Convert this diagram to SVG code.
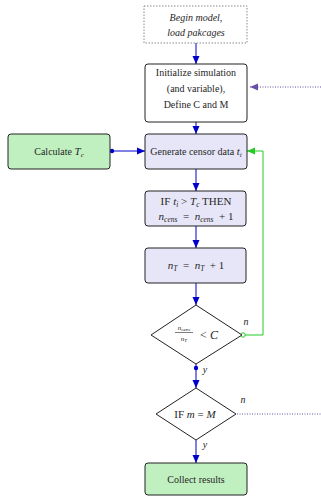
<svg xmlns="http://www.w3.org/2000/svg" width="321" height="497" viewBox="0 0 321 497">
  <style>
    text { font-family: "Liberation Serif", "Times New Roman", serif; font-size: 10px; fill: #262626; text-anchor: middle; }
    .it { font-style: italic; }
    .sub { font-size: 7px; font-style: italic; }
    .math { font-size: 11px; }
    .math .sub { font-size: 7.5px; }
    .box { stroke: #222; stroke-width: 1; }
    .plain { fill: #ffffff; }
    .lav { fill: #e6e6f8; }
    .grn { fill: #c0f0c0; }
    .flow { fill: none; stroke: #0000cc; stroke-width: 1; }
    .loop { fill: none; stroke: #22cc22; stroke-width: 1; }
    .dot { fill: none; stroke: #6a4fa8; stroke-width: 1; stroke-dasharray: 1 1.5; }
  </style>
  <defs>
    <marker id="arrBlue" viewBox="0 0 8 8" refX="8" refY="4" markerWidth="8" markerHeight="8" markerUnits="userSpaceOnUse" orient="auto">
      <path d="M0,0.5 L8,4 L0,7.5 Z" fill="#0000cc"/>
    </marker>
    <marker id="arrGreen" viewBox="0 0 8 8" refX="8" refY="4" markerWidth="8" markerHeight="8" markerUnits="userSpaceOnUse" orient="auto">
      <path d="M0,0.5 L8,4 L0,7.5 Z" fill="#22cc22"/>
    </marker>
    <marker id="arrPurple" viewBox="0 0 8 8" refX="8" refY="4" markerWidth="8" markerHeight="8" markerUnits="userSpaceOnUse" orient="auto">
      <path d="M0,0.5 L8,4 L0,7.5 Z" fill="#6a4fa8"/>
    </marker>
  </defs>

  <!-- connectors -->
  <g id="connectors">
    <path class="flow" d="M196,43 V64" marker-end="url(#arrBlue)"/>
    <path class="flow" d="M196,122 V134" marker-end="url(#arrBlue)"/>
    <path class="flow" d="M112,151 H145" marker-end="url(#arrBlue)"/>
    <circle cx="112" cy="151" r="2.2" fill="#0000cc"/>
    <path class="flow" d="M196,169 V191" marker-end="url(#arrBlue)"/>
    <path class="flow" d="M196,226 V248" marker-end="url(#arrBlue)"/>
    <path class="flow" d="M196,283 V305" marker-end="url(#arrBlue)"/>
    <path class="flow" d="M196,364 V388" marker-end="url(#arrBlue)"/>
    <circle cx="196" cy="368" r="2.2" fill="#0000cc"/>
    <path class="flow" d="M196,440 V463" marker-end="url(#arrBlue)"/>
    <path class="loop" d="M244,335 H263 V151 H247" marker-end="url(#arrGreen)"/>
    <circle cx="243" cy="335" r="2.2" fill="#ffffff" stroke="#22cc22" stroke-width="1"/>
    <path class="dot" d="M321,87 H250" marker-end="url(#arrPurple)"/>
    <path class="dot" d="M237,414 H321"/>
    <text class="it" x="246" y="325">n</text>
    <text class="it" x="205" y="373">y</text>
    <text class="it" x="243" y="403">n</text>
    <text class="it" x="205" y="448">y</text>
  </g>

  <g id="begin">
    <rect x="144" y="6" width="103" height="37" fill="#ffffff" stroke="#888" stroke-width="1" stroke-dasharray="1.5 1.5"/>
    <text class="it" x="196" y="21">Begin model,</text>
    <text class="it" x="196" y="36">load pakcages</text>
  </g>

  <g id="init">
    <rect class="box plain" x="145" y="64" width="102" height="58" rx="3"/>
    <text x="196" y="76">Initialize simulation</text>
    <text x="196" y="92">(and variable),</text>
    <text x="196" y="108">Define C and M</text>
  </g>

  <g id="calc">
    <rect class="box grn" x="8" y="134" width="102" height="35" rx="3"/>
    <text x="59" y="155">Calculate <tspan class="it" style="font-size:11px">T</tspan><tspan class="sub" dy="2">c</tspan></text>
  </g>

  <g id="generate">
    <rect class="box lav" x="145" y="134" width="102" height="35" rx="3"/>
    <text x="196" y="155">Generate censor data <tspan class="it" style="font-size:11px">t</tspan><tspan class="sub" dy="2">i</tspan></text>
  </g>

  <g id="ifcens">
    <rect class="box lav" x="145" y="191" width="101" height="35" rx="3"/>
    <text class="math" x="196" y="205">IF <tspan class="it">t</tspan><tspan class="sub" dy="2">i</tspan><tspan dy="-2">  &gt;  </tspan><tspan class="it">T</tspan><tspan class="sub" dy="2">c</tspan><tspan dy="-2"> THEN</tspan></text>
    <text class="math" x="196" y="220" xml:space="preserve"><tspan class="it">n</tspan><tspan class="sub" dy="2">cens</tspan><tspan dy="-2">  =  </tspan><tspan class="it">n</tspan><tspan class="sub" dy="2">cens</tspan><tspan dy="-2">  + 1</tspan></text>
  </g>

  <g id="count">
    <rect class="box lav" x="145" y="248" width="101" height="35" rx="3"/>
    <text class="math" x="196" y="269" xml:space="preserve"><tspan class="it">n</tspan><tspan class="sub" dy="2">T</tspan><tspan dy="-2">  =  </tspan><tspan class="it">n</tspan><tspan class="sub" dy="2">T</tspan><tspan dy="-2">  + 1</tspan></text>
  </g>

  <g id="ratio">
    <polygon class="box plain" points="196,305 242,335 196,364 151,335"/>
    <text x="184" y="330" style="font-size:7px" class="it">n<tspan dy="1" style="font-size:5px">cens</tspan></text>
    <line x1="175" y1="332.5" x2="193" y2="332.5" stroke="#262626" stroke-width="0.6"/>
    <text x="184" y="340.5" style="font-size:7px" class="it">n<tspan dy="1" style="font-size:5px">T</tspan></text>
    <text x="209" y="339" style="font-size:12px" xml:space="preserve">&lt; <tspan class="it">C</tspan></text>
  </g>

  <g id="ifm">
    <polygon class="box plain" points="196,388 236,414 196,440 156,414"/>
    <text class="math" x="195" y="418">IF <tspan class="it">m</tspan> = <tspan class="it">M</tspan></text>
  </g>

  <g id="collect">
    <rect class="box grn" x="145" y="463" width="102" height="32" rx="3"/>
    <text x="196" y="483">Collect results</text>
  </g>
</svg>
